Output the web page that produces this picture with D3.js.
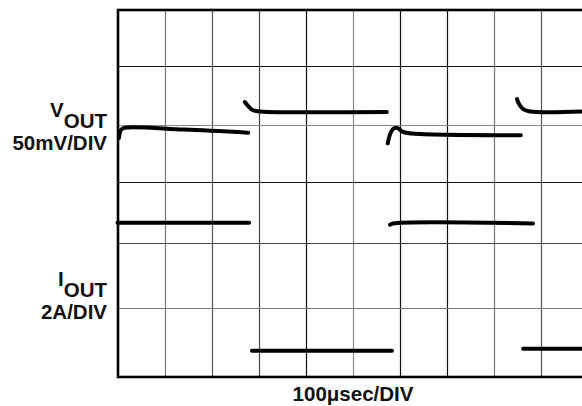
<html>
  <head>
    <meta charset="UTF-8">
    <style>
      body { margin: 0; background: #fff; }
      text { font-family: 'Liberation Sans', Arial, sans-serif; font-weight: bold; fill: #111; }
      .grid .domain { display: none; }
    </style>
  </head>
  <body>
    <svg id="scope" width="582" height="406"></svg>
    <script src="https://d3js.org/d3.v7.min.js"></script>
    <script>
      /* time in usec (100usec/DIV), levels in divisions from the bottom of the screen */
      var xGrid = [100, 200, 300, 400, 500, 600, 700, 800, 900];
      var yGrid = [1, 2, 3, 4, 5];
      var yDivs = [0, 1, 2, 3, 4, 5, 6];

      // VOUT, 50mV/DIV
      var vout1 = [[2, 3.77], [6, 3.91], [13, 3.95], [140, 3.92], [277, 3.865]];
      var vout2 = [[270, 4.39], [277, 4.32], [287, 4.25], [302, 4.23], [572, 4.22]];
      var vout3 = [[574, 3.68], [579, 3.84], [585, 3.93], [594, 3.95], [606, 3.88], [626, 3.85], [857, 3.82]];
      var vout4 = [[849, 4.44], [853, 4.36], [862, 4.27], [877, 4.23], [990, 4.23]];

      // IOUT, 2A/DIV
      var iout1 = [[-1, 2.33], [279, 2.33]];
      var iout2 = [[285, 0.38], [583, 0.38]];
      var iout3 = [[579, 2.30], [585, 2.32], [883, 2.32]];
      var iout4 = [[862, 0.41], [990, 0.41]];

      var svg = d3.select("#scope");
      svg.append("rect").attr("width", 582).attr("height", 406).attr("fill", "#fff");

      /* the screen is a scanned graticule, divisions are not quite even vertically */
      var x = d3.scaleLinear().domain([0, 1000]).range([118, 588]);
      var y = d3.scaleLinear().domain(yDivs).range([377, 308, 243, 182, 125, 66, 10]);

      var gridTone = { 100: "#777", 200: "#555", 300: "#444", 400: "#111", 500: "#888",
                       600: "#111", 700: "#111", 800: "#777", 900: "#555" };
      var hTone = { 1: "#777", 2: "#444", 3: "#111", 4: "#888", 5: "#111" };

      svg.append("g")
        .attr("class", "grid")
        .attr("transform", "translate(0," + y(0) + ")")
        .call(d3.axisBottom(x).tickValues(xGrid).tickSize(-(y(0) - y(6))).tickFormat(""))
        .selectAll(".tick line")
        .attr("stroke", function(d) { return gridTone[d]; })
        .attr("stroke-width", 1.2);

      svg.append("g")
        .attr("class", "grid")
        .attr("transform", "translate(" + x(0) + ",0)")
        .call(d3.axisLeft(y).tickValues(yGrid).tickSize(-(x(1000) - x(0))).tickFormat(""))
        .selectAll(".tick line")
        .attr("stroke", function(d) { return hTone[d]; })
        .attr("stroke-width", 1.2);

      /* frame */
      svg.append("rect")
        .attr("x", x(0))
        .attr("y", y(6))
        .attr("width", x(1000) - x(0))
        .attr("height", y(0) - y(6))
        .attr("fill", "none")
        .attr("stroke", "#000")
        .attr("stroke-width", 2.6);

      /* traces */
      var line = d3.line()
        .x(function(d) { return x(d[0]); })
        .y(function(d) { return y(d[1]); })
        .curve(d3.curveCatmullRom.alpha(0.5));

      [vout1, vout2, vout3, vout4, iout1, iout2, iout3, iout4].forEach(function(seg) {
        svg.append("path")
          .datum(seg)
          .attr("fill", "none")
          .attr("stroke", "#000")
          .attr("stroke-width", 4)
          .attr("stroke-linecap", "round")
          .attr("stroke-linejoin", "round")
          .attr("d", line);
      });

      /* labels */
      var fs = "20.5px";
      var v = svg.append("text").attr("x", 107).attr("y", 117).attr("text-anchor", "end").style("font-size", fs);
      v.append("tspan").text("V");
      v.append("tspan").attr("dy", 11).text("OUT");
      svg.append("text").attr("x", 107).attr("y", 150).attr("text-anchor", "end").style("font-size", fs).text("50mV/DIV");

      var i = svg.append("text").attr("x", 107).attr("y", 286).attr("text-anchor", "end").style("font-size", fs);
      i.append("tspan").text("I");
      i.append("tspan").attr("dy", 11).text("OUT");
      svg.append("text").attr("x", 107).attr("y", 319).attr("text-anchor", "end").style("font-size", fs).text("2A/DIV");

      svg.append("text")
        .attr("x", (x(0) + x(1000)) / 2)
        .attr("y", 401)
        .attr("text-anchor", "middle")
        .style("font-size", fs)
        .text("100μsec/DIV");
    </script>
  </body>
</html>
